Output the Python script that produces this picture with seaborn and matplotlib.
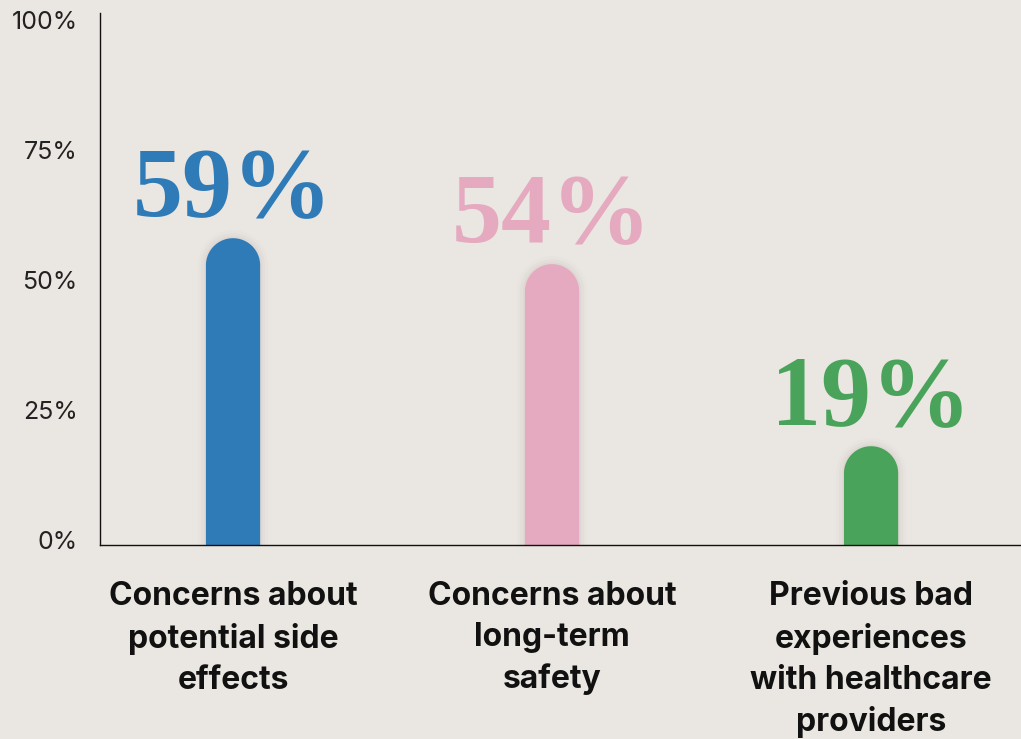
import matplotlib
matplotlib.use("Agg")
import matplotlib.pyplot as plt
import matplotlib.transforms as mtransforms
import seaborn as sns
import pandas as pd
import numpy as np
from matplotlib.patches import Polygon

categories = ["Concerns about\npotential side\neffects",
              "Concerns about\nlong-term\nsafety",
              "Previous bad\nexperiences\nwith healthcare\nproviders"]
values = [59, 54, 19]
colors = ["#2F7BB8", "#E5A9C0", "#4AA35A"]
yticks = [0, 25, 50, 75, 100]
ytick_labels = ["0%", "25%", "50%", "75%", "100%"]

bg = "#EAE6E1"
sns.set_theme(style="white")
plt.rcParams["font.family"] = ["Inter", "DejaVu Sans"]

fig = plt.figure(figsize=(10.21, 7.39), dpi=100)
fig.patch.set_facecolor(bg)
ax = fig.add_axes([100 / 1021, 194 / 739, 921 / 1021, 532 / 739])
ax.set_facecolor(bg)

df = pd.DataFrame({"cat": categories, "val": values})
sns.barplot(data=df, x="cat", y="val", hue="cat", palette=colors, width=0.17,
            saturation=1, ax=ax, legend=False)

ax.set_xlim(-0.417, 2.47)
ax.set_ylim(0, 102.3)

# convert bars into rounded-top bars
fig.canvas.draw()
bbox = ax.get_window_extent()
x0, x1 = ax.get_xlim()
y0, y1 = ax.get_ylim()
pxx = bbox.width / (x1 - x0)
pxy = bbox.height / (y1 - y0)


def rounded(cx, hw, top):
    r_px = hw * pxx
    ry = r_px / pxy
    t = np.linspace(np.pi, 0, 60)
    pts = [(cx - hw, 0), (cx - hw, top - ry)]
    pts += list(zip(cx + hw * np.cos(t), top - ry + ry * np.sin(t)))
    pts += [(cx + hw, top - ry), (cx + hw, 0)]
    return pts


for p in list(ax.patches):
    cx = p.get_x() + p.get_width() / 2
    hw = p.get_width() / 2
    top = p.get_height()
    col = p.get_facecolor()
    p.set_visible(False)
    # soft shadow
    for k, a in [(8, 0.025), (5, 0.035), (2, 0.05)]:
        dx = k / pxx
        dy = k / pxy
        ax.add_patch(Polygon(rounded(cx, hw + dx, top + dy), closed=True,
                             facecolor="#7a6f66", alpha=a, edgecolor="none", zorder=1))
    ax.add_patch(Polygon(rounded(cx, hw, top), closed=True, facecolor=col,
                         edgecolor="none", zorder=2))

for i, (v, c) in enumerate(zip(values, colors)):
    ax.annotate(f"{v}%", xy=(i, v), xytext=(0, 16), textcoords="offset points",
                ha="center", va="baseline", fontsize=72, fontweight="bold",
                family=["Liberation Serif", "DejaVu Serif"], color=c, zorder=3)

ax.set_yticks(yticks)
ax.set_yticklabels(ytick_labels, fontsize=18, color="#222222")
ax.tick_params(axis="y", length=0, pad=16)
ax.set_xticks(range(len(categories)))
ax.set_xticklabels(categories, fontsize=23, fontweight="bold", color="#111111",
                   linespacing=1.42)
ax.tick_params(axis="x", length=0, pad=26)
ax.set_xlabel("")
ax.set_ylabel("")

shift = mtransforms.ScaledTranslation(0, 5 / 100, fig.dpi_scale_trans)
for lab in ax.get_yticklabels():
    lab.set_transform(lab.get_transform() + shift)

for s in ["top", "right"]:
    ax.spines[s].set_visible(False)
for s in ["left", "bottom"]:
    ax.spines[s].set_color("#111111")
    ax.spines[s].set_linewidth(1.0)

fig.savefig("out.png", dpi=100, facecolor=bg)
